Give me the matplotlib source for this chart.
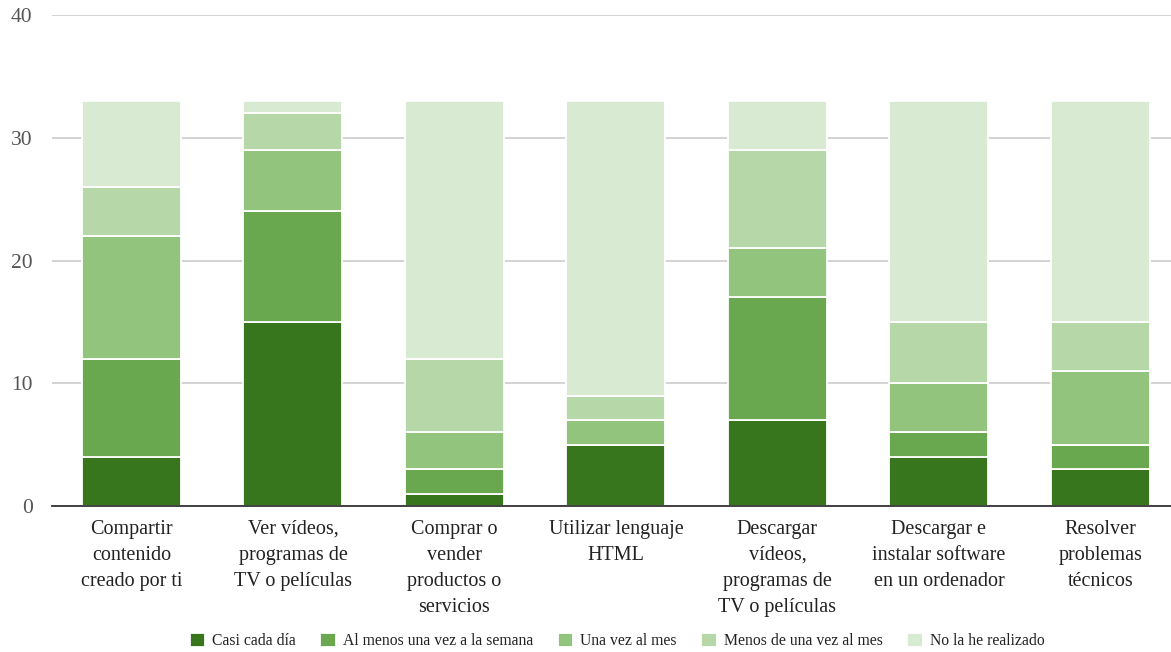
import matplotlib
matplotlib.use("Agg")
import matplotlib.pyplot as plt
import numpy as np

categories = [
    "Compartir\ncontenido\ncreado por ti",
    "Ver vídeos,\nprogramas de\nTV o películas",
    "Comprar o\nvender\nproductos o\nservicios",
    "Utilizar lenguaje\nHTML",
    "Descargar\nvídeos,\nprogramas de\nTV o películas",
    "Descargar e\ninstalar software\nen un ordenador",
    "Resolver\nproblemas\ntécnicos",
]
series_names = [
    "Casi cada día",
    "Al menos una vez a la semana",
    "Una vez al mes",
    "Menos de una vez al mes",
    "No la he realizado",
]
casi_cada_dia = [4, 15, 1, 5, 7, 4, 3]
al_menos_semana = [8, 9, 2, 0, 10, 2, 2]
una_vez_mes = [10, 5, 3, 2, 4, 4, 6]
menos_una_vez_mes = [4, 3, 6, 2, 8, 5, 4]
no_realizado = [7, 1, 21, 24, 4, 18, 18]
colors = ["#38761d", "#6aa84f", "#93c47d", "#b6d7a8", "#d9ead3"]
y_ticks = [0, 10, 20, 30, 40]

plt.rcParams["font.family"] = ["Liberation Serif", "DejaVu Serif"]

fig = plt.figure(figsize=(11.71, 6.52), dpi=100)
ax = fig.add_axes([0.0444, 0.2239, 0.9556, 0.753])

x = np.arange(len(categories))
bottom = np.zeros(len(categories))
data = [casi_cada_dia, al_menos_semana, una_vez_mes, menos_una_vez_mes, no_realizado]
handles = []
for vals, name, c in zip(data, series_names, colors):
    vals = np.array(vals, dtype=float)
    b = ax.bar(x, vals, width=0.613, bottom=bottom, color=c, edgecolor="white",
               linewidth=1.3, label=name, zorder=3)
    handles.append(b)
    bottom += vals

ax.set_xlim(-0.492, 6.437)
ax.set_ylim(0, 40)
ax.set_yticks(y_ticks)
ax.set_yticklabels([str(t) for t in y_ticks], fontsize=15.5, color="#555555")
ax.yaxis.grid(True, color="#cccccc", linewidth=1.2, zorder=0)
ax.set_axisbelow(True)
for s in ["top", "right", "left"]:
    ax.spines[s].set_visible(False)
ax.spines["bottom"].set_color("#333333")
ax.spines["bottom"].set_linewidth(1.3)
ax.spines["bottom"].set_zorder(4)
ax.tick_params(axis="both", length=0)
ax.tick_params(axis="y", pad=14)
ax.set_xticks(x)
ax.set_xticklabels(categories, fontsize=14.5, color="#222222", linespacing=1.5, va="top")
ax.tick_params(axis="x", pad=10)

leg = fig.legend(handles=handles, labels=series_names, loc="center",
                 bbox_to_anchor=(0.527, 0.017), ncol=5, frameon=False,
                 fontsize=11.3, handlelength=1.0, handleheight=1.0,
                 handletextpad=0.45, columnspacing=1.55)
for t in leg.get_texts():
    t.set_color("#222222")

fig.savefig("out.png", dpi=100)
